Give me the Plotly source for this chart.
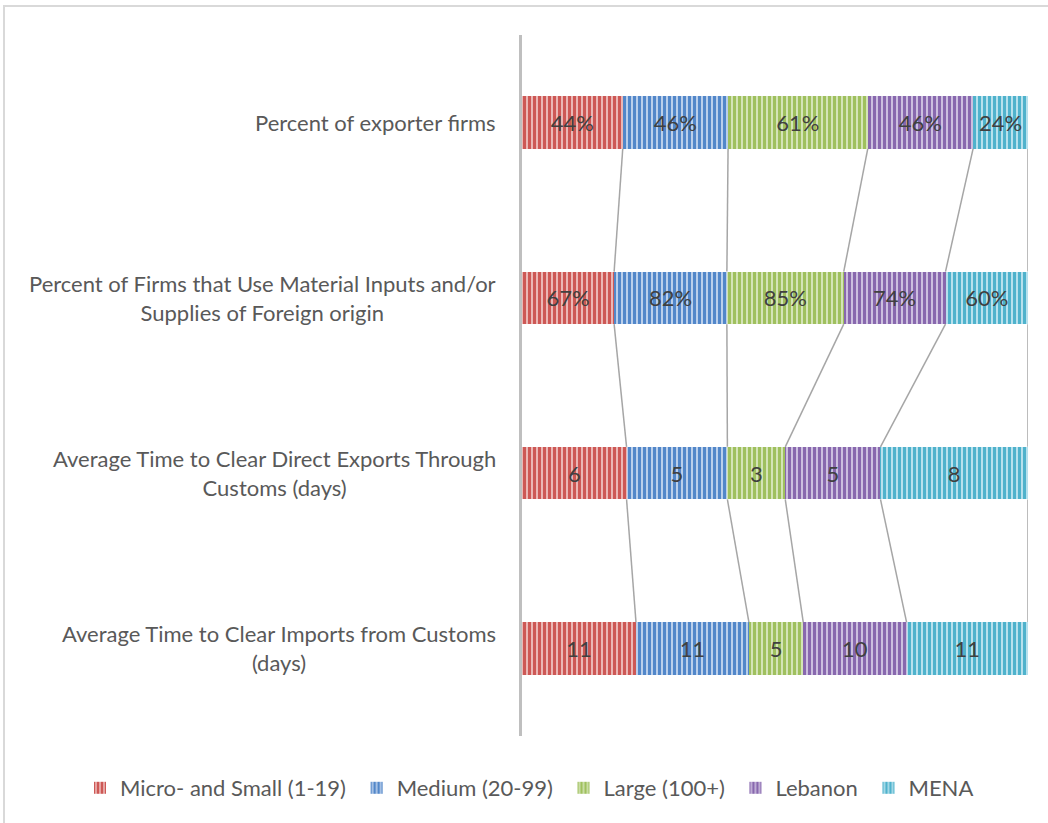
import numpy as np
import plotly.graph_objects as go

# Indicators (top to bottom) and the groups compared for each
categories = [
    "Percent of exporter firms",
    "Percent of Firms that Use Material Inputs and/or<br>Supplies of Foreign origin",
    "Average Time to Clear Direct Exports Through<br>Customs (days)",
    "Average Time to Clear Imports from Customs<br>(days)",
]
is_percent = [True, True, False, False]

series_names = ["Micro- and Small (1-19)", "Medium (20-99)", "Large (100+)", "Lebanon", "MENA"]

micro_small = [44, 67, 5.6, 10.7]
medium = [46, 82, 5.4, 10.6]
large = [61, 85, 3.1, 5.1]
lebanon = [46, 74, 5.1, 9.7]
mena = [24, 60, 7.9, 11.4]

series_values = [micro_small, medium, large, lebanon, mena]

main_colors = ["#CD5855", "#5287C9", "#9FC05E", "#8868AE", "#4FB2CC"]
light_colors = ["#F0C4C3", "#C9D9F0", "#DCEAC4", "#D6CBE6", "#C6E8F2"]

W, H = 1048, 823
ML, MR, MT, MB = 522, 20, 35, 87
plot_w = W - ML - MR
plot_h = H - MT - MB

rows = list(range(len(categories)))
bar_w = 0.3
text_color = "#404040"
label_color = "#595959"
font_family = "Lato"
font_size = 22

# a little extra room after each legend entry
pad = "\u00a0"

fig = go.Figure()
for i, (name, vals, fg, bg) in enumerate(zip(series_names, series_values, main_colors, light_colors)):
    fig.add_trace(go.Bar(
        name=name + (pad if i < len(series_names) - 1 else ""),
        y=rows,
        x=vals,
        customdata=vals,
        orientation="h",
        width=bar_w,
        marker=dict(
            color=fg,
            line=dict(width=0),
            pattern=dict(shape="|", size=5, solidity=0.65, fgcolor=fg, bgcolor=bg, fillmode="replace"),
        ),
        texttemplate=["%{customdata:.0f}%" if p else "%{customdata:.0f}" for p in is_percent],
        textposition="inside",
        insidetextanchor="middle",
        textfont=dict(family=font_family, size=font_size, color=text_color),
        hoverinfo="skip",
    ))

# Series lines joining the end of each segment between neighbouring bars
vals_arr = np.array(series_values, dtype=float)  # (series, rows)
cum_pct = np.cumsum(vals_arr, axis=0) / vals_arr.sum(axis=0) * 100
shapes = []
for r in rows[:-1]:
    for k in range(len(series_names)):
        shapes.append(dict(
            type="line", xref="x", yref="y",
            x0=cum_pct[k, r], y0=r + bar_w / 2,
            x1=cum_pct[k, r + 1], y1=r + 1 - bar_w / 2,
            line=dict(color="#A6A6A6", width=1.5),
            layer="above",
        ))

# Chart-area border
def px_x(p):
    return (p - ML) / plot_w

def px_y(p):
    return (H - MB - p) / plot_h

shapes.append(dict(
    type="rect", xref="paper", yref="paper",
    x0=px_x(4), x1=px_x(W + 10), y0=px_y(6), y1=px_y(H + 10),
    line=dict(color="#D9D9D9", width=2), fillcolor="rgba(0,0,0,0)", layer="below",
))

annotations = []
for r, cat in zip(rows, categories):
    annotations.append(dict(
        text=cat, xref="paper", yref="y", x=0, y=r,
        xanchor="right", yanchor="middle", xshift=-24, align="center",
        showarrow=False, font=dict(family=font_family, size=font_size, color=label_color),
    ))

fig.update_layout(
    width=W, height=H,
    margin=dict(l=ML, r=MR, t=MT, b=MB),
    barmode="stack",
    barnorm="percent",
    paper_bgcolor="white",
    plot_bgcolor="white",
    font=dict(family=font_family, color=label_color),
    xaxis=dict(range=[0, 100], visible=False, fixedrange=True),
    yaxis=dict(
        range=[len(rows) - 0.5, -0.5],
        showticklabels=False, showgrid=False, zeroline=False,
        showline=True, linecolor="#BFBFBF", linewidth=3,
        ticks="",
    ),
    legend=dict(
        orientation="h",
        x=px_x(80), xanchor="left",
        y=px_y(788), yanchor="middle",
        font=dict(family=font_family, size=font_size, color=label_color),
        itemwidth=30, traceorder="normal",
        bgcolor="rgba(0,0,0,0)",
    ),
    shapes=shapes,
    annotations=annotations,
    showlegend=True,
)

fig.write_html("out.html")
